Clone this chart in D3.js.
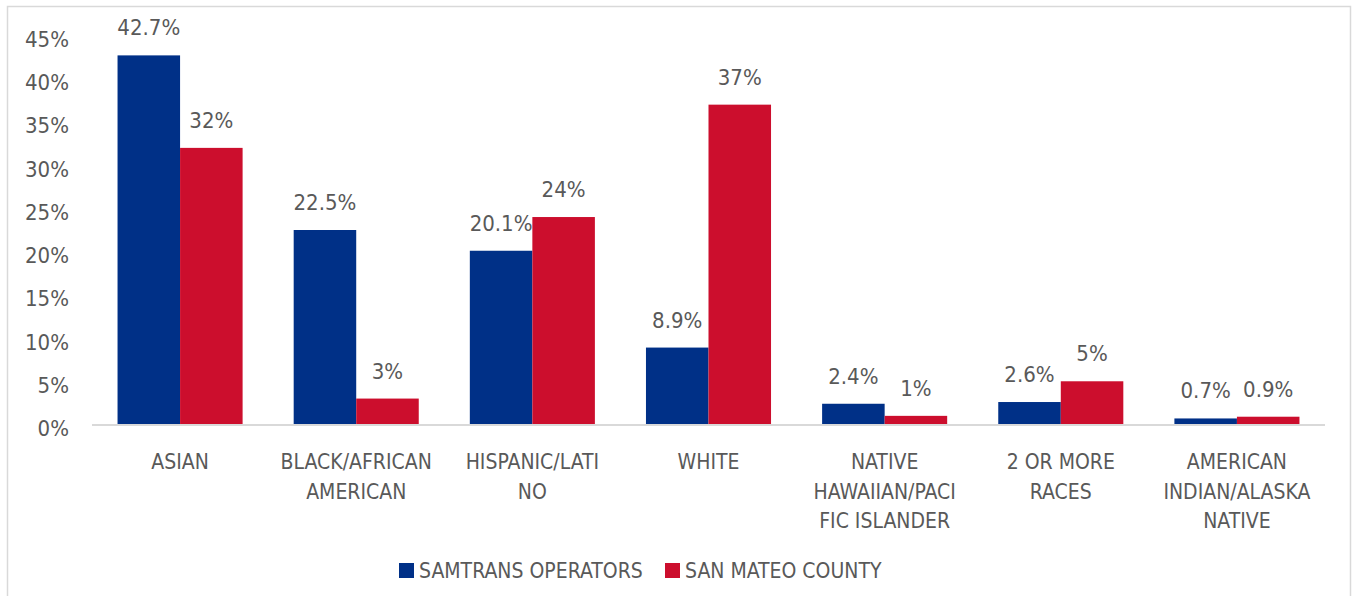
<!DOCTYPE html>
<html>
<head>
<meta charset="utf-8">
<script src="https://cdn.jsdelivr.net/npm/d3@7/dist/d3.min.js"></script>
<style>
  html, body { margin: 0; padding: 0; background: #fff; }
  svg { display: block; }
  text { font-family: "DejaVu Sans Condensed", "DejaVu Sans", sans-serif; font-stretch: condensed; fill: #595959; }
</style>
</head>
<body>
<svg id="chart" width="1354" height="596"></svg>
<script>
// Race / ethnicity breakdown: SamTrans operators vs. San Mateo County population (%)
const categories = ["ASIAN", "BLACK/AFRICAN AMERICAN", "HISPANIC/LATINO", "WHITE",
  "NATIVE HAWAIIAN/PACIFIC ISLANDER", "2 OR MORE RACES", "AMERICAN INDIAN/ALASKA NATIVE"];
const categoryLines = [
  ["ASIAN"],
  ["BLACK/AFRICAN", "AMERICAN"],
  ["HISPANIC/LATI", "NO"],
  ["WHITE"],
  ["NATIVE", "HAWAIIAN/PACI", "FIC ISLANDER"],
  ["2 OR MORE", "RACES"],
  ["AMERICAN", "INDIAN/ALASKA", "NATIVE"]
];
const seriesNames = ["SAMTRANS OPERATORS", "SAN MATEO COUNTY"];
const samtransOperators = [42.7, 22.5, 20.1, 8.9, 2.4, 2.6, 0.7];
const sanMateoCounty = [32, 3, 24, 37, 1, 5, 0.9];
const seriesLabels = [
  ["42.7%", "22.5%", "20.1%", "8.9%", "2.4%", "2.6%", "0.7%"],
  ["32%", "3%", "24%", "37%", "1%", "5%", "0.9%"]
];
const yTicks = [0, 5, 10, 15, 20, 25, 30, 35, 40, 45];
const colors = ["#003087", "#CC0E2D"];

const svg = d3.select("#chart");

// outer chart frame
svg.append("rect")
  .attr("x", 7.5).attr("y", 6.5)
  .attr("width", 1343).attr("height", 600)
  .attr("fill", "none").attr("stroke", "#D9D9D9").attr("stroke-width", 1.5);

const plot = { left: 92, right: 1325, top: 35.5, bottom: 424.5 };

const x0 = d3.scaleBand()
  .domain(categories)
  .range([plot.left, plot.right])
  .paddingInner(0.29)
  .paddingOuter(0.145);

const x1 = d3.scaleBand()
  .domain(seriesNames)
  .range([0, x0.bandwidth()]);

const y = d3.scaleLinear().domain([0, 45]).range([plot.bottom, plot.top]);

const rows = categories.map((c, i) => ({
  category: c,
  values: [samtransOperators[i], sanMateoCounty[i]].map((v, s) => ({
    series: seriesNames[s], value: v, label: seriesLabels[s][i], color: colors[s]
  }))
}));

// y axis labels (no axis line or gridlines)
const yAxis = d3.axisLeft(y).tickValues(yTicks).tickFormat(d => d + "%").tickSize(0).tickPadding(0);
const yG = svg.append("g").attr("transform", "translate(69,0)").call(yAxis);
yG.select(".domain").remove();
yG.selectAll("text")
  .attr("x", 0).attr("dy", null)
  .attr("transform", "translate(0,11)")
  .attr("font-family", null)
  .attr("font-size", null)
  .style("font-size", "22px")
  .style("fill", "#595959")
  .attr("text-anchor", "end");

// bars
const groups = svg.append("g").selectAll("g")
  .data(rows).join("g")
  .attr("transform", d => `translate(${x0(d.category)},0)`);

groups.selectAll("rect")
  .data(d => d.values).join("rect")
  .attr("x", d => x1(d.series))
  .attr("y", d => y(d.value))
  .attr("width", x1.bandwidth())
  .attr("height", d => y(0) - y(d.value))
  .attr("fill", d => d.color);

groups.selectAll("text.value")
  .data(d => d.values).join("text")
  .attr("class", "value")
  .attr("x", d => x1(d.series) + x1.bandwidth() / 2)
  .attr("y", d => y(d.value) - 20)
  .attr("text-anchor", "middle")
  .style("font-size", "22px")
  .text(d => d.label);

// category axis
const xAxis = d3.axisBottom(x0).tickSize(0).tickFormat("");
const xG = svg.append("g").attr("transform", `translate(0,${plot.bottom})`).call(xAxis);
xG.select(".domain")
  .attr("d", `M${plot.left},0.5H${plot.right}`)
  .attr("stroke", "#D9D9D9").attr("stroke-width", 2);

const catLabels = svg.append("g").selectAll("text")
  .data(categories).join("text")
  .attr("text-anchor", "middle")
  .attr("x", d => x0(d) + x0.bandwidth() / 2)
  .attr("y", 469)
  .style("font-size", "21px");
catLabels.selectAll("tspan")
  .data((d, i) => categoryLines[i]).join("tspan")
  .attr("x", function () { return d3.select(this.parentNode).attr("x"); })
  .attr("dy", (d, i) => i === 0 ? 0 : 29.5)
  .text(d => d);

// legend
const legendX = [399, 665];
const legend = svg.append("g").selectAll("g")
  .data(seriesNames).join("g")
  .attr("transform", (d, i) => `translate(${legendX[i]},563)`);
legend.append("rect")
  .attr("width", 15).attr("height", 15)
  .attr("fill", (d, i) => colors[i]);
legend.append("text")
  .attr("x", 20).attr("y", 15)
  .style("font-size", "21px")
  .text(d => d);
</script>
</body>
</html>
